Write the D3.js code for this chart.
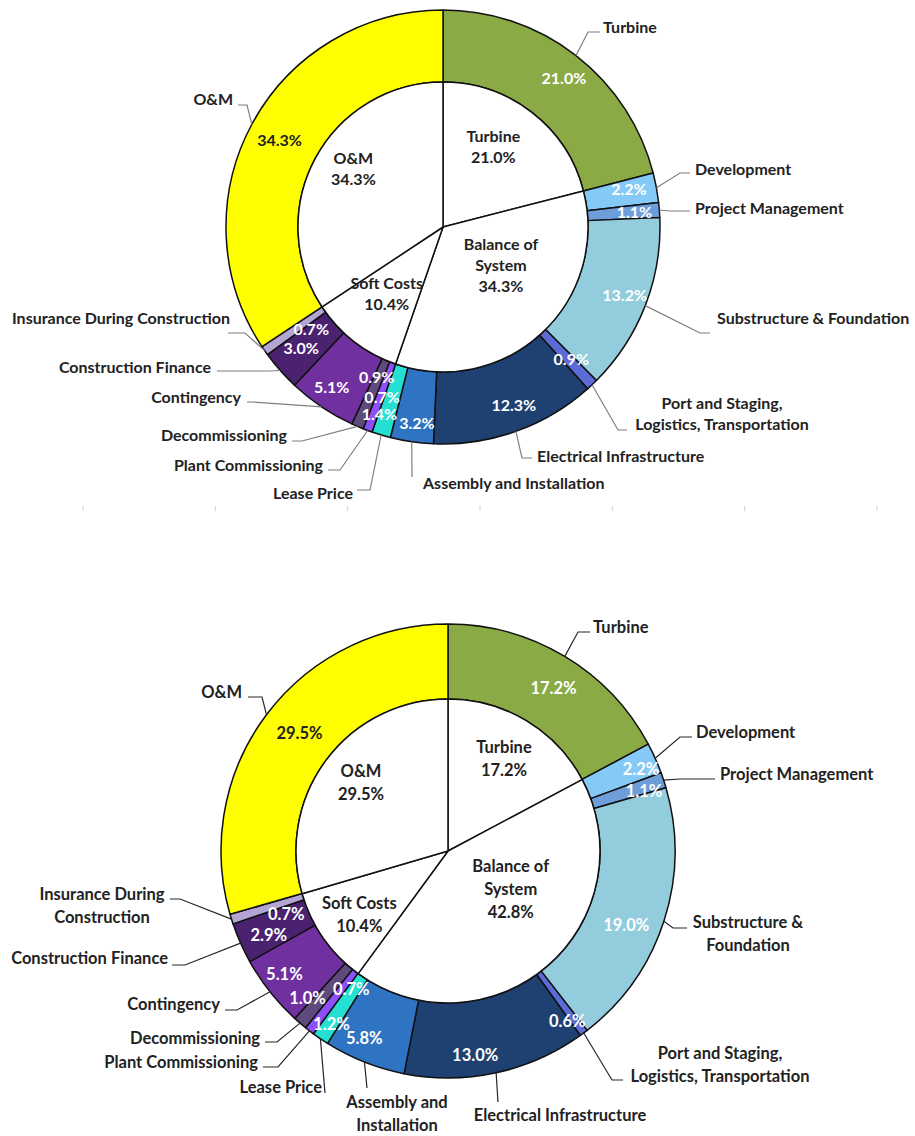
<!DOCTYPE html>
<html><head><meta charset="utf-8">
<script src="https://cdn.jsdelivr.net/npm/d3@7"></script>
<style>
body{margin:0;background:#fff}
svg{display:block}
text{font-family:Lato,"Open Sans",sans-serif;font-weight:700}
</style>
</head><body><svg id="c" width="915" height="1136"></svg>
<script>
// ---------- data ----------
const categories = ["Turbine","Development","Project Management","Substructure & Foundation",
  "Port and Staging, Logistics, Transportation","Electrical Infrastructure","Assembly and Installation",
  "Lease Price","Plant Commissioning","Decommissioning","Contingency","Construction Finance",
  "Insurance During Construction","O&M"];
const valuesTop    = [21.0,2.2,1.1,13.2,0.9,12.3,3.2,1.4,0.7,0.9,5.1,3.0,0.7,34.3];
const valuesBottom = [17.2,2.2,1.1,19.0,0.6,13.0,5.8,1.2,0.7,1.0,5.1,2.9,0.7,29.5];
const groups = ["Turbine","Balance of System","Soft Costs","O&M"];
const groupValuesTop    = [21.0,34.3,10.4,34.3];
const groupValuesBottom = [17.2,42.8,10.4,29.5];

// ---------- styles ----------
const colors = ["#8AAA46","#85C9F7","#6E9ED9","#93CCDD","#5B6CD6","#1F4172","#2F74C3",
  "#25E0D2","#8C4FFA","#5F4A7D","#7030A0","#4A2270","#B3A6D4","#FFFF00"];
const pctTextColor = categories.map(c => c === "O&M" ? "#222" : "#fff");

// ---------- layout ----------
const layoutTop = {
  cx: 443, cy: 227, R: 217, r: 145, fs: 16, lh: 21, leader: "#7f7f7f",
  groupLines: [["Turbine"],["Balance of","System"],["Soft Costs"],["O&M"]],
  innerNudge: [[-3,-12],[-1,-26],[-3,-2],[-13,-17]],
  pctNudge: [[10,-6],[8,-5],[11,-1],[13,3],[4,1],[10,8],[0,17],[-12,14],[2,1],[5,-16],[-10,10],[-6,2],[17,-1],[-4,-1]],
  callouts: [
    {lines:["Turbine"], t:[160,-200], a:"start", e:[157,-195], b:[145,-195]},
    {lines:["Development"], t:[252,-58], a:"start", e:[247,-54], b:[237,-54]},
    {lines:["Project Management"], t:[252,-19], a:"start", e:[247,-16], b:[227,-16]},
    {lines:["Substructure & Foundation"], t:[274,91], a:"start", e:[267,106], b:[257,106]},
    {lines:["Port and Staging,","Logistics, Transportation"], t:[279,176], a:"middle", e:[184,203], b:[175,203]},
    {lines:["Electrical Infrastructure"], t:[94,229], a:"start", e:[89,231], b:[79,231]},
    {lines:["Assembly and Installation"], t:[-20,256], a:"start", e:[-31,250], b:[-31,250]},
    {lines:["Lease Price"], t:[-90,266], a:"end", e:[-86,263], b:[-73,263]},
    {lines:["Plant Commissioning"], t:[-120,238], a:"end", e:[-115,243], b:[-103,243]},
    {lines:["Decommissioning"], t:[-156,208], a:"end", e:[-151,214], b:[-141,214]},
    {lines:["Contingency"], t:[-202,170], a:"end", e:[-196,175], b:[-190,175]},
    {lines:["Construction Finance"], t:[-232,140], a:"end", e:[-226,144], b:[-173,144]},
    {lines:["Insurance During Construction"], t:[-213,91], a:"end", e:[-215,106], b:[-198,106]},
    {lines:["O&M"], t:[-210,-128], a:"end", e:[-205,-122], b:[-196,-122]}
  ]
};
const layoutBottom = {
  cx: 448, cy: 851, R: 227, r: 152, fs: 16.5, lh: 23, leader: "#262626",
  groupLines: [["Turbine"],["Balance of","System"],["Soft Costs"],["O&M"]],
  innerNudge: [[9,-14],[3,-31],[-14,11],[-14,-14]],
  pctNudge: [[8,0],[20,-5],[16,-1],[-2,16],[6,18],[-13,19],[-14,11],[-10,16],[19,-12],[-17,3],[-15,6],[-6,7],[19,6],[3,-4]],
  callouts: [
    {lines:["Turbine"], t:[145,-224], a:"start", e:[142,-219], b:[130,-219]},
    {lines:["Development"], t:[248,-119], a:"start", e:[244,-114], b:[232,-114]},
    {lines:["Project Management"], t:[272,-77], a:"start", e:[267,-72], b:[232,-72]},
    {lines:["Substructure &","Foundation"], t:[300,71], a:"middle", e:[239,77], b:[225,77]},
    {lines:["Port and Staging,","Logistics, Transportation"], t:[272,202], a:"middle", e:[175,229], b:[164,229]},
    {lines:["Electrical Infrastructure"], t:[112,264], a:"middle", e:[50,251], b:[50,251]},
    {lines:["Assembly and","Installation"], t:[-51,251], a:"middle", e:[-81,237], b:[-81,237]},
    {lines:["Lease Price"], t:[-126,236], a:"end", e:[-123,242], b:[-123,242]},
    {lines:["Plant Commissioning"], t:[-190,211], a:"end", e:[-185,216], b:[-170,216]},
    {lines:["Decommissioning"], t:[-188,187], a:"end", e:[-183,191], b:[-171,191]},
    {lines:["Contingency"], t:[-228,153], a:"end", e:[-223,159], b:[-211,159]},
    {lines:["Construction Finance"], t:[-280,107], a:"end", e:[-276,114], b:[-263,114]},
    {lines:["Insurance During","Construction"], t:[-346,43], a:"middle", e:[-278,48], b:[-268,48]},
    {lines:["O&M"], t:[-206,-159], a:"end", e:[-200,-154], b:[-186,-154]}
  ]
};

const svg = d3.select("#c");

// faint axis ticks between the two charts
const tickScale = d3.scaleLinear().domain([0,6]).range([83,877]);
svg.append("g").selectAll("line").data(d3.range(0,7)).join("line")
  .attr("x1", d => tickScale(d)).attr("x2", d => tickScale(d))
  .attr("y1", 506).attr("y2", 511).attr("stroke", "#d0d0d0").attr("stroke-width", 1);

function drawChart(values, groupValues, L) {
  const g = svg.append("g").attr("transform", `translate(${L.cx},${L.cy})`);
  const pie = d3.pie().sort(null).value(d => d);
  const ring = pie(values);
  const inner = pie(groupValues);
  const ringArc = d3.arc().innerRadius(L.r).outerRadius(L.R);
  const edgeArc = d3.arc().innerRadius(L.R).outerRadius(L.R);
  const innerArc = d3.arc().innerRadius(0).outerRadius(L.r);
  const innerLabelArc = d3.arc().innerRadius(L.r * 0.6).outerRadius(L.r * 0.6);
  const fmt = v => d3.format(".1f")(v) + "%";

  // ring
  g.append("g").selectAll("path").data(ring).join("path")
    .attr("d", ringArc).attr("fill", (d,i) => colors[i])
    .attr("stroke", "#111").attr("stroke-width", 1.5).attr("stroke-linejoin", "round");
  // inner pie
  g.append("g").selectAll("path").data(inner).join("path")
    .attr("d", innerArc).attr("fill", "#fff")
    .attr("stroke", "#111").attr("stroke-width", 1.5).attr("stroke-linejoin", "round");

  // percent labels on ring
  g.append("g").selectAll("text").data(ring).join("text")
    .attr("x", (d,i) => ringArc.centroid(d)[0] + L.pctNudge[i][0])
    .attr("y", (d,i) => ringArc.centroid(d)[1] + L.pctNudge[i][1])
    .attr("dy", "0.36em").attr("text-anchor", "middle")
    .attr("font-size", L.fs).attr("fill", (d,i) => pctTextColor[i])
    .text(d => fmt(d.data));

  // inner group labels
  inner.forEach((d,i) => {
    const c = innerLabelArc.centroid(d);
    const lines = L.groupLines[i].concat([fmt(d.data)]);
    const x = c[0] + L.innerNudge[i][0], y = c[1] + L.innerNudge[i][1];
    const t = g.append("text").attr("text-anchor", "middle").attr("font-size", L.fs).attr("fill", "#222");
    lines.forEach((s,k) => t.append("tspan").attr("x", x)
      .attr("y", y + (k - (lines.length - 1) / 2) * L.lh).attr("dy", "0.36em").text(s));
  });

  // callouts
  ring.forEach((d,i) => {
    const co = L.callouts[i];
    const s = edgeArc.centroid(d);
    g.append("path")
      .attr("d", d3.line()([s, co.b, co.e]))
      .attr("fill", "none").attr("stroke", L.leader).attr("stroke-width", 1.2);
    const t = g.append("text").attr("text-anchor", co.a).attr("font-size", L.fs).attr("fill", "#222");
    co.lines.forEach((ln,k) => t.append("tspan").attr("x", co.t[0])
      .attr("y", co.t[1] + k * L.lh).attr("dy", "0.36em").text(ln));
  });
}

drawChart(valuesTop, groupValuesTop, layoutTop);
drawChart(valuesBottom, groupValuesBottom, layoutBottom);
</script>
</body></html>
